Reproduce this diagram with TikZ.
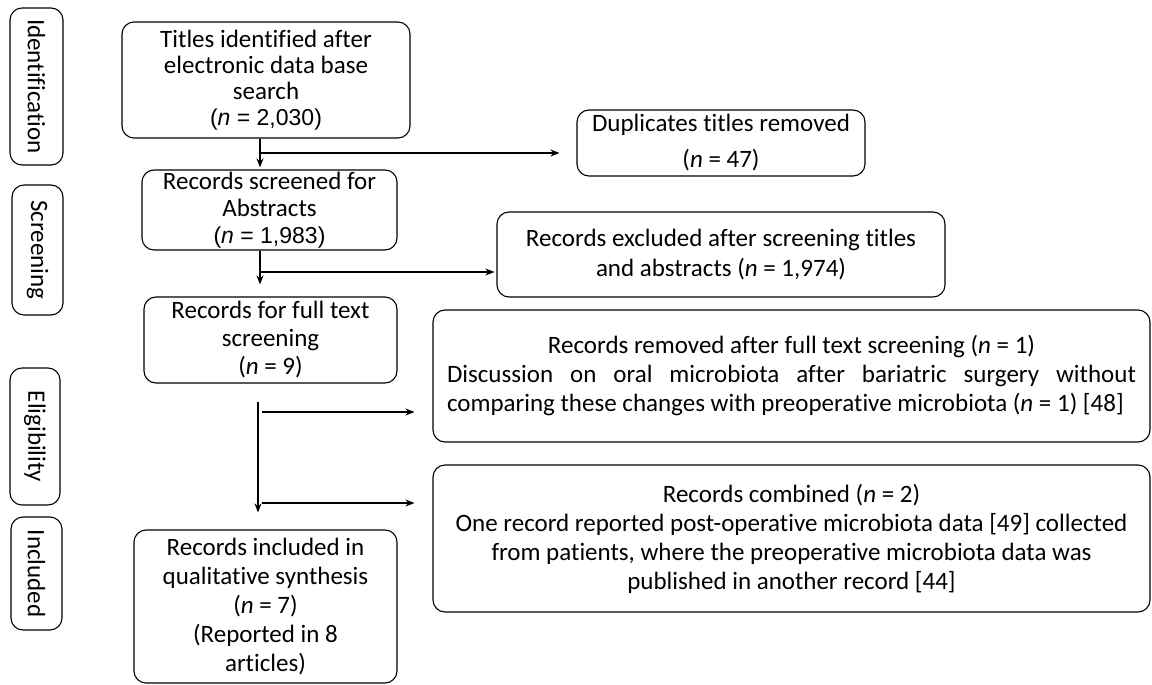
\documentclass[tikz,border=0pt]{standalone}
\usepackage{fontspec}
\setmainfont{Carlito}[Ligatures=NoCommon]
\newfontfamily\arialf{Liberation Sans}
\usetikzlibrary{arrows.meta,calc}
\begin{document}
\begin{tikzpicture}[x=1pt,y=-1pt,
  box/.style={draw, rounded corners=12pt, line width=1.1pt, inner sep=0pt, align=center, font=\fontsize{25}{27}\selectfont},
  side/.style={box, rotate=-90},
  arr/.style={line width=1.8pt, -{Stealth[length=9pt,width=7pt]}},
  ln/.style={line width=1.8pt}]
\useasboundingbox (0,0) rectangle (1152,685);
% side labels
\node[side, minimum width=157pt, minimum height=53pt] (sid) at (36.5,86.5) {Identification};
\node[side, minimum width=130pt, minimum height=51pt] (sscr) at (37.5,250) {Screening};
\node[side, minimum width=137pt, minimum height=50pt] (selig) at (35,436.5) {Eligibility};
\node[side, minimum width=113pt, minimum height=51pt] (sincl) at (36.5,573.5) {Included};
% left column
\node[box, minimum width=288pt, minimum height=116pt, font=\fontsize{25}{26}\selectfont] (titles) at (266,80)
  {Titles identified after\\electronic data base\\search\\{\arialf\fontsize{23}{26}\selectfont(\textit{n} = 2,030)}};
\node[box, minimum width=255pt, minimum height=80pt, font=\fontsize{25}{27}\selectfont] (screened) at (269.5,210)
  {Records screened for\\Abstracts\\{\arialf\fontsize{23}{26}\selectfont(\textit{n} = 1,983)}};
\node[box, minimum width=253pt, minimum height=86pt, font=\fontsize{25}{28}\selectfont] (full) at (270.5,340)
  {Records for full text\\screening\\(\textit{n} = 9)};
\node[box, minimum width=263pt, minimum height=153pt, font=\fontsize{25}{29}\selectfont] (incl) at (265.5,606.5)
  {Records included in\\qualitative synthesis\\(\textit{n} = 7)\\(Reported in 8\\articles)};
% right column
\node[box, minimum width=288pt, minimum height=66pt, font=\fontsize{25}{36}\selectfont] (dup) at (721,143)
  {Duplicates titles removed\\(\textit{n} = 47)};
\node[box, minimum width=448pt, minimum height=85pt, font=\fontsize{25}{30}\selectfont] (excl) at (721,254.5)
  {Records excluded after screening titles\\and abstracts (\textit{n} = 1,974)};
\node[box, minimum width=717pt, minimum height=132pt, font=\fontsize{25}{29}\selectfont] (removed) at (791.5,376)
  {Records removed after full text screening (\textit{n} = 1)\\
   \makebox[689pt][s]{Discussion on oral microbiota after bariatric surgery without}\\
   \makebox[689pt][l]{comparing these changes with preoperative microbiota (\textit{n} = 1) [48]}};
\node[box, minimum width=717pt, minimum height=147pt, font=\fontsize{25}{29}\selectfont] (combined) at (791.5,538.5)
  {Records combined (\textit{n} = 2)\\One record reported post-operative microbiota data [49] collected\\from patients, where the preoperative microbiota data was\\published in another record [44]};
% connectors
\coordinate (v1) at (260,153);
\draw[arr, shorten >=2pt] (titles.south -| v1) -- (screened.north -| v1);
\draw[arr, shorten >=17pt] (v1) -- (dup.west |- v1);
\coordinate (v2) at (260,272);
\draw[arr, shorten >=12pt] (screened.south -| v2) -- (full.north -| v2);
\draw[arr, shorten >=2pt] (v2) -- (excl.west |- v2);
\coordinate (v3) at (258,402);
\coordinate (h1) at (262,412);
\coordinate (h2) at (262,503);
\draw[arr, shorten >=17pt] (v3) -- (incl.north -| v3);
\draw[arr, shorten >=18pt] (h1) -- (removed.west |- h1);
\draw[arr, shorten >=18pt] (h2) -- (combined.west |- h2);
\end{tikzpicture}
\end{document}
